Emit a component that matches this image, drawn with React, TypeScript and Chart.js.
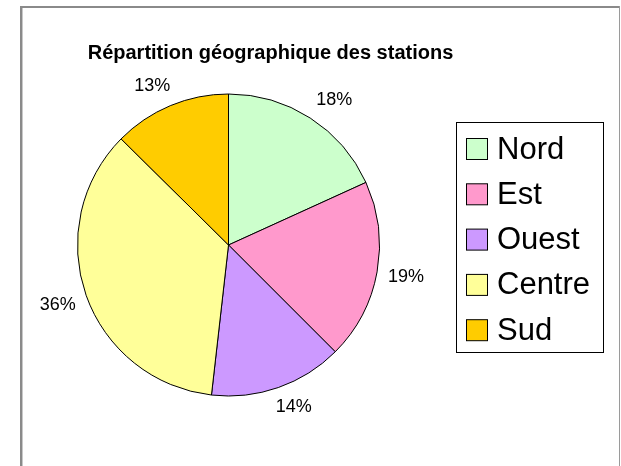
import React, { useEffect, useRef } from "react";
import { Chart, registerables } from "chart.js";

Chart.register(...registerables);

const TITLE = "Répartition géographique des stations";
const categories = ["Nord", "Est", "Ouest", "Centre", "Sud"];
const shares = [18.2, 19.3, 14.3, 35.6, 12.6];
const colors = ["#CCFFCC", "#FF99CC", "#CC99FF", "#FFFF99", "#FFCC00"];

const FONT = "'Liberation Sans', Arial, sans-serif";

const clamp = (v: number) => Math.max(-1, Math.min(1, v));

const decorPlugin = {
  id: "decor",
  beforeDraw(chart: any) {
    const ctx = chart.ctx;
    ctx.save();
    ctx.fillStyle = "#ffffff";
    ctx.fillRect(0, 0, chart.width, chart.height);
    ctx.fillStyle = "#8a8a8a";
    ctx.fillRect(20, 6, 600, 2);
    ctx.fillRect(20, 6, 2, chart.height - 6);
    ctx.fillStyle = "#c8c8c8";
    ctx.fillRect(22, 8, 1, chart.height - 8);
    ctx.fillStyle = "#9a9a9a";
    ctx.fillRect(619, 6, 1, chart.height - 6);
    ctx.restore();
  },
  afterDraw(chart: any) {
    const ctx = chart.ctx;
    const meta = chart.getDatasetMeta(0);
    const data = chart.data.datasets[0].data as number[];
    const total = data.reduce((a, b) => a + b, 0);
    ctx.save();
    // title
    ctx.fillStyle = "#000";
    ctx.font = `bold 20px ${FONT}`;
    ctx.textAlign = "center";
    ctx.textBaseline = "alphabetic";
    ctx.fillText(TITLE, 270.5, 59);
    // percent labels (box placed outside the pie, anchored at its corner)
    ctx.font = `18px ${FONT}`;
    ctx.textBaseline = "middle";
    meta.data.forEach((arc: any, i: number) => {
      const p = arc.getProps(["x", "y", "startAngle", "endAngle", "outerRadius"], true);
      const mid = (p.startAngle + p.endAngle) / 2;
      const d = p.outerRadius + 11;
      const c = Math.cos(mid), s = Math.sin(mid);
      const txt = Math.round((data[i] / total) * 100) + "%";
      const w = ctx.measureText(txt).width;
      const h = 18;
      const x = p.x + c * d + (w / 2) * clamp(c * 2);
      const y = p.y + s * d + (h / 2) * clamp(s * 2);
      ctx.fillText(txt, x, y);
    });
    // legend
    const lx = 456, ly = 122, lw = 147, lh = 230;
    ctx.fillStyle = "#fff";
    ctx.fillRect(lx, ly, lw, lh);
    ctx.strokeStyle = "#000";
    ctx.lineWidth = 1;
    ctx.strokeRect(lx + 0.5, ly + 0.5, lw, lh);
    ctx.font = `31px ${FONT}`;
    ctx.textAlign = "left";
    ctx.textBaseline = "middle";
    (chart.data.labels as string[]).forEach((lab, i) => {
      const cy = 149 + i * 45.3;
      ctx.fillStyle = colors[i];
      ctx.fillRect(466, cy - 10.5, 21, 21);
      ctx.strokeStyle = "#000";
      ctx.strokeRect(466.5, cy - 10.5, 21, 21);
      ctx.fillStyle = "#000";
      ctx.fillText(lab, 497, cy + 1);
    });
    ctx.restore();
  },
};

export default function App() {
  const ref = useRef<HTMLCanvasElement | null>(null);
  useEffect(() => {
    if (!ref.current) return;
    const chart = new Chart(ref.current, {
      type: "pie",
      data: {
        labels: categories,
        datasets: [
          {
            data: shares,
            backgroundColor: colors,
            borderColor: "#000",
            borderWidth: 1,
            radius: 151,
          } as any,
        ],
      },
      options: {
        responsive: false,
        animation: false,
        events: [],
        layout: { padding: { left: 0, right: 164, top: 24, bottom: 0 } },
        plugins: {
          legend: { display: false },
          title: { display: false },
          tooltip: { enabled: false },
        },
      },
      plugins: [decorPlugin],
    });
    return () => chart.destroy();
  }, []);
  return (
    <div style={{ position: "absolute", left: 0, top: 0, width: 621, height: 466 }}>
      <canvas ref={ref} width={621} height={466} style={{ display: "block" }} />
    </div>
  );
}
